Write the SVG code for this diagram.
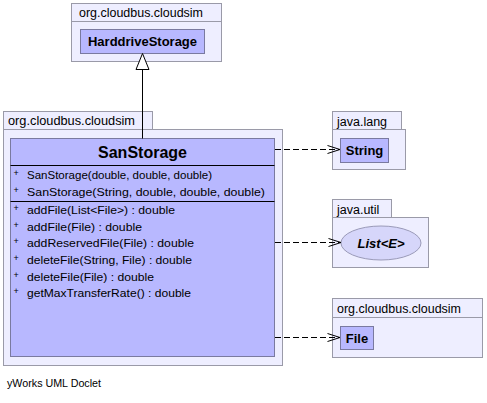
<svg xmlns="http://www.w3.org/2000/svg" width="487" height="403" viewBox="0 0 487 403">
<defs>
<style>
.pkg{fill:#eeeeff;stroke:#9a9aa8;stroke-width:1}
.cls{fill:#b8b8ff;stroke:#7a7aa0;stroke-width:1}
.ifc{fill:#d6d6fa;stroke:#9a9ab8;stroke-width:1}
.sep{stroke:#000;stroke-width:1}
.plab{font-family:"Liberation Sans",Arial,sans-serif;font-size:12.5px;fill:#000}
.cname{font-family:"Liberation Sans",Arial,sans-serif;font-size:13px;font-weight:bold;fill:#000;text-anchor:middle}
.title{font-family:"Liberation Sans",Arial,sans-serif;font-size:16px;font-weight:bold;fill:#000;text-anchor:middle}
.mem{font-family:"Liberation Sans",Arial,sans-serif;font-size:11.5px;fill:#000}
.plus{font-family:"Liberation Sans",Arial,sans-serif;font-size:9px;fill:#000}
.dep{fill:none;stroke:#000;stroke-width:1;stroke-dasharray:6,3}
.head{fill:none;stroke:#000;stroke-width:1}
.foot{font-family:"Liberation Sans",Arial,sans-serif;font-size:11px;fill:#000}
</style>
<marker id="open" markerWidth="14" markerHeight="10" refX="13" refY="4.5" orient="auto" markerUnits="userSpaceOnUse">
<path d="M0.5,0.5 L13,4.5 L0.5,8.5" fill="none" stroke="#000" stroke-width="1"/>
</marker>
</defs>

<g id="pkg-top">
<rect class="pkg" x="71.5" y="3.5" width="150" height="18"/>
<rect class="pkg" x="71.5" y="21.5" width="150" height="40"/>
<text class="plab" x="79" y="17" textLength="124" lengthAdjust="spacingAndGlyphs">org.cloudbus.cloudsim</text>
</g>
<g id="HarddriveStorage">
<rect class="cls" x="80.5" y="29.5" width="124" height="24"/>
<text class="cname" x="142.5" y="46">HarddriveStorage</text>
</g>

<g id="pkg-main">
<rect class="pkg" x="3.5" y="111.5" width="149" height="18"/>
<rect class="pkg" x="3.5" y="129.5" width="279" height="236"/>
<text class="plab" x="8" y="125" textLength="127" lengthAdjust="spacingAndGlyphs">org.cloudbus.cloudsim</text>
</g>
<g id="SanStorage">
<rect class="cls" x="10.5" y="138.5" width="264" height="218"/>
<line class="sep" x1="10.5" y1="165.5" x2="274.5" y2="165.5"/>
<line class="sep" x1="10.5" y1="201.5" x2="274.5" y2="201.5"/>
<text class="title" x="142.5" y="158">SanStorage</text>
<text class="plus" x="13.5" y="176">+</text>
<text class="mem" x="27" y="179" textLength="185" lengthAdjust="spacingAndGlyphs">SanStorage(double, double, double)</text>
<text class="plus" x="13.5" y="193">+</text>
<text class="mem" x="27" y="196" textLength="238" lengthAdjust="spacingAndGlyphs">SanStorage(String, double, double, double)</text>
<text class="plus" x="13.5" y="211">+</text>
<text class="mem" x="27" y="214" textLength="148" lengthAdjust="spacingAndGlyphs">addFile(List&lt;File&gt;) : double</text>
<text class="plus" x="13.5" y="228">+</text>
<text class="mem" x="27" y="231" textLength="115" lengthAdjust="spacingAndGlyphs">addFile(File) : double</text>
<text class="plus" x="13.5" y="244">+</text>
<text class="mem" x="27" y="247" textLength="167" lengthAdjust="spacingAndGlyphs">addReservedFile(File) : double</text>
<text class="plus" x="13.5" y="261">+</text>
<text class="mem" x="27" y="264" textLength="165" lengthAdjust="spacingAndGlyphs">deleteFile(String, File) : double</text>
<text class="plus" x="13.5" y="278">+</text>
<text class="mem" x="27" y="281" textLength="127" lengthAdjust="spacingAndGlyphs">deleteFile(File) : double</text>
<text class="plus" x="13.5" y="294">+</text>
<text class="mem" x="27" y="297" textLength="164" lengthAdjust="spacingAndGlyphs">getMaxTransferRate() : double</text>
</g>

<g id="pkg-java-lang">
<rect class="pkg" x="332.5" y="111.5" width="69" height="18"/>
<rect class="pkg" x="332.5" y="129.5" width="73" height="40"/>
<text class="plab" x="337" y="125.5">java.lang</text>
</g>
<g id="String">
<rect class="cls" x="340.5" y="138.5" width="48" height="24"/>
<text class="cname" x="364.5" y="155">String</text>
</g>

<g id="pkg-java-util">
<rect class="pkg" x="332.5" y="199.5" width="59" height="18"/>
<rect class="pkg" x="332.5" y="217.5" width="96" height="50"/>
<text class="plab" x="337" y="213.5">java.util</text>
</g>
<g id="List">
<ellipse class="ifc" cx="381" cy="243" rx="40" ry="17"/>
<text class="cname" x="381" y="247.5" font-style="italic">List&lt;E&gt;</text>
</g>

<g id="pkg-file">
<rect class="pkg" x="332.5" y="298.5" width="150" height="19"/>
<rect class="pkg" x="332.5" y="317.5" width="150" height="40"/>
<text class="plab" x="337" y="313" textLength="124" lengthAdjust="spacingAndGlyphs">org.cloudbus.cloudsim</text>
</g>
<g id="File">
<rect class="cls" x="340.5" y="326.5" width="33" height="23"/>
<text class="cname" x="357" y="343">File</text>
</g>

<g id="connectors">
<line x1="142.5" y1="69" x2="142.5" y2="138.5" stroke="#000" stroke-width="1"/>
<path d="M142.5,53.5 L149,69.5 L136,69.5 Z" fill="#fff" stroke="#000" stroke-width="1"/>
<line class="dep" x1="275" y1="149.5" x2="340" y2="149.5" marker-end="url(#open)"/>
<line class="dep" x1="275" y1="242.5" x2="341" y2="242.5" marker-end="url(#open)"/>
<line class="dep" x1="275" y1="337.5" x2="340" y2="337.5" marker-end="url(#open)"/>
</g>

<text class="foot" x="7" y="387" textLength="94" lengthAdjust="spacingAndGlyphs">yWorks UML Doclet</text>
</svg>
